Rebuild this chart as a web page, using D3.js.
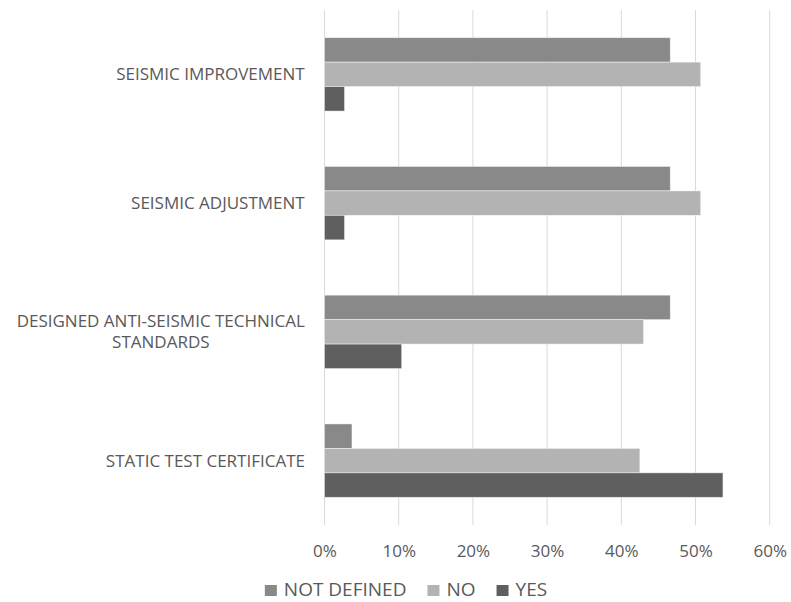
<!DOCTYPE html>
<html>
<head>
<meta charset="utf-8">
<script src="https://cdn.jsdelivr.net/npm/d3@7"></script>
<style>
  html, body { margin: 0; padding: 0; background: #ffffff; }
  svg { display: block; }
  text { font-family: "Open Sans", "Noto Sans", sans-serif; fill: #595959; }
</style>
</head>
<body>
<svg id="chart" width="791" height="602"></svg>
<script>
// Survey categories, top to bottom
const categories = [
  ["SEISMIC IMPROVEMENT"],
  ["SEISMIC ADJUSTMENT"],
  ["DESIGNED ANTI-SEISMIC TECHNICAL", "STANDARDS"],
  ["STATIC TEST CERTIFICATE"]
];
const categoryKeys = ["improvement", "adjustment", "standards", "certificate"];

// Share of answers per category (percent)
const notDefined = [46.6, 46.6, 46.6, 3.7];
const no = [50.7, 50.7, 43.0, 42.5];
const yes = [2.7, 2.7, 10.4, 53.7];

const seriesNames = ["NOT DEFINED", "NO", "YES"];
const seriesColors = ["#898989", "#b3b3b3", "#5f5f5f"];
const seriesValues = [notDefined, no, yes];

const tickValues = [0, 10, 20, 30, 40, 50, 60];

const svg = d3.select("#chart");

const plot = { left: 324.5, right: 769.7, top: 10, bottom: 525 };

const x = d3.scaleLinear().domain([0, 60]).range([plot.left, plot.right]);

const y = d3.scaleBand()
  .domain(categoryKeys)
  .range([plot.top, plot.bottom])
  .paddingInner(0.43)
  .paddingOuter(0.215);

const ySeries = d3.scaleBand()
  .domain(seriesNames)
  .range([0, y.bandwidth()]);

// Vertical gridlines
svg.append("g")
  .selectAll("line")
  .data(tickValues)
  .join("line")
  .attr("x1", d => x(d))
  .attr("x2", d => x(d))
  .attr("y1", plot.top)
  .attr("y2", plot.bottom)
  .attr("stroke", "#d9d9d9")
  .attr("stroke-width", 1);

// Bars
const groups = svg.append("g")
  .selectAll("g")
  .data(categoryKeys)
  .join("g")
  .attr("transform", d => `translate(0,${y(d)})`);

groups.selectAll("rect")
  .data((d, i) => seriesNames.map((s, j) => ({ series: s, color: seriesColors[j], value: seriesValues[j][i] })))
  .join("rect")
  .attr("x", x(0))
  .attr("y", d => ySeries(d.series))
  .attr("width", d => x(d.value) - x(0))
  .attr("height", ySeries.bandwidth())
  .attr("fill", d => d.color)
  .attr("stroke", "#ffffff")
  .attr("stroke-opacity", 0.55)
  .attr("stroke-width", 0.8);

// X axis tick labels
const xAxis = d3.axisBottom(x)
  .tickValues(tickValues)
  .tickFormat(d => d + "%")
  .tickSize(0)
  .tickPadding(0);

const axisG = svg.append("g")
  .attr("transform", `translate(0,${plot.bottom})`)
  .call(xAxis);
axisG.select(".domain").remove();
axisG.selectAll("text")
  .attr("y", 32)
  .attr("dy", null)
  .style("font-family", "\"Open Sans\", sans-serif")
  .style("font-size", "17px")
  .attr("fill", "#595959");

// Category labels (multi-line, centred block, right edge near the axis)
const labelRight = 305;
const labelG = svg.append("g");
categoryKeys.forEach((key, i) => {
  const lines = categories[i];
  const lineH = 21;
  const cy = y(key) + y.bandwidth() / 2;
  const firstY = cy - (lines.length - 1) * lineH / 2;
  const block = labelG.append("g");
  lines.forEach((ln, k) => {
    block.append("text")
      .attr("font-size", 17)
      .attr("text-anchor", "middle")
      .attr("x", 0)
      .attr("y", firstY + k * lineH)
      .attr("dy", "0.35em")
      .text(ln);
  });
  const w = block.node().getBBox().width;
  block.attr("transform", `translate(${labelRight - w / 2},0)`);
});

// Legend
const legend = svg.append("g");
let cursor = 0;
seriesNames.forEach((name, j) => {
  const g = legend.append("g");
  g.append("rect")
    .attr("x", 0).attr("y", -11)
    .attr("width", 12).attr("height", 11)
    .attr("fill", seriesColors[j]);
  const t = g.append("text")
    .attr("x", 19).attr("y", 0)
    .attr("font-size", 19)
    .text(name);
  const w = 19 + t.node().getComputedTextLength();
  g.attr("transform", `translate(${cursor},0)`);
  cursor += w + 21;
});
const legendWidth = cursor - 21;
legend.attr("transform", `translate(${406 - legendWidth / 2},596)`);
</script>
</body>
</html>
